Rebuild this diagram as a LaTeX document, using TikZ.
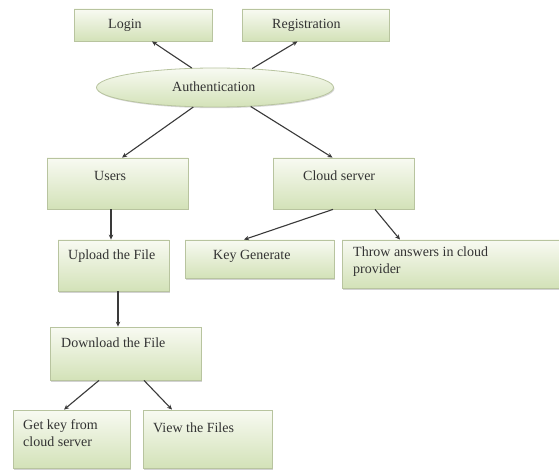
\documentclass[tikz,border=0pt]{standalone}
\usepackage{fontspec}
\setmainfont{Liberation Serif}
\usetikzlibrary{arrows.meta,shapes.geometric,shadows,calc}
\definecolor{boxgreen}{HTML}{D3E2B8}
\definecolor{boxtop}{HTML}{F8FAF2}
\definecolor{boxborder}{HTML}{B8C49F}
\definecolor{arrowgrey}{HTML}{3A3A3A}
\definecolor{txtgrey}{HTML}{333333}
\tikzset{
  box/.style={draw=boxborder, line width=0.8pt, top color=boxtop, bottom color=boxgreen,
    inner sep=0pt, rectangle,
    drop shadow={shadow xshift=1.2pt, shadow yshift=-1.5pt, opacity=0.35, fill=gray}},
  oval/.style={draw=boxborder, line width=0.8pt, top color=boxtop, bottom color=boxgreen,
    inner sep=0pt, ellipse,
    drop shadow={shadow xshift=1pt, shadow yshift=-1.2pt, opacity=0.3, fill=gray}},
  txt/.style={font=\fontsize{14}{17}\selectfont, text=txtgrey, inner sep=0pt, anchor=west, align=left},
  arr/.style={draw=arrowgrey, line width=1.1pt, -{Stealth[length=5pt,width=4.5pt]}}
}
\begin{document}
\begin{tikzpicture}[x=1pt,y=-1pt]
\useasboundingbox (0,0) rectangle (559,470);
\fill[white] (0,0) rectangle (559,470);
% boxes
\node[box, minimum width=138pt, minimum height=32pt] (login) at (143,25) {};
\node[box, minimum width=147pt, minimum height=32pt] (reg) at (315.5,25) {};
\node[oval, minimum width=237pt, minimum height=39pt] (auth) at (215,87.5) {};
\node[box, minimum width=141pt, minimum height=51pt] (users) at (117.5,183.5) {};
\node[box, minimum width=141pt, minimum height=51pt] (cloud) at (343.5,183.5) {};
\node[box, minimum width=111pt, minimum height=51pt] (upload) at (113.5,265.5) {};
\node[box, minimum width=149pt, minimum height=38pt] (key) at (259.5,259) {};
\node[box, minimum width=222pt, minimum height=48pt] (throw) at (453,264) {};
\node[box, minimum width=151pt, minimum height=53pt] (download) at (125.5,353.5) {};
\node[box, minimum width=117pt, minimum height=58pt] (getkey) at (71.5,439) {};
\node[box, minimum width=129pt, minimum height=58pt] (view) at (207.5,439) {};
% texts
\node[txt] (tlogin) at (108,25) {Login};
\node[txt] (treg) at (272,25) {Registration};
\node[txt] (tauth) at (172,87) {Authentication};
\node[txt] (tusers) at (94,176) {Users};
\node[txt] (tcloud) at (303,176) {Cloud server};
\node[txt] (tupload) at (68,256) {Upload the File};
\node[txt] (tkey) at (213,256) {Key Generate};
\node[txt, anchor=north west] (tthrow) at (353,247) {Throw answers in cloud\\provider};
\node[txt] (tdownload) at (61,343) {Download the File};
\node[txt, anchor=north west] (tgetkey) at (23,419) {Get key from\\cloud server};
\node[txt] (tview) at (153,428) {View the Files};
% connectors
\draw[arr] (auth.140) -- ([xshift=9pt]login.south);
\draw[arr] (auth.27) -- ([xshift=-18pt]reg.south);
\draw[arr] (auth.222) -- ([xshift=4.5pt]users.north);
\draw[arr] (auth.-28) -- ([xshift=-11pt]cloud.north);
\draw[arr] ([xshift=-6.5pt]users.south) -- ([xshift=-2.5pt]upload.north);
\draw[arr] ([xshift=4.5pt]upload.south) -- ([xshift=-7.5pt]download.north);
\draw[arr] ([xshift=-10.5pt]cloud.south) -- ([xshift=-15.5pt]key.north);
\draw[arr] ([xshift=31.5pt]cloud.south) -- ([xshift=-53pt]throw.north);
\draw[arr] ([xshift=-26.5pt]download.south) -- ([xshift=-7.5pt]getkey.north);
\draw[arr] ([xshift=18.5pt]download.south) -- ([xshift=-35.5pt]view.north);
\end{tikzpicture}
\end{document}
